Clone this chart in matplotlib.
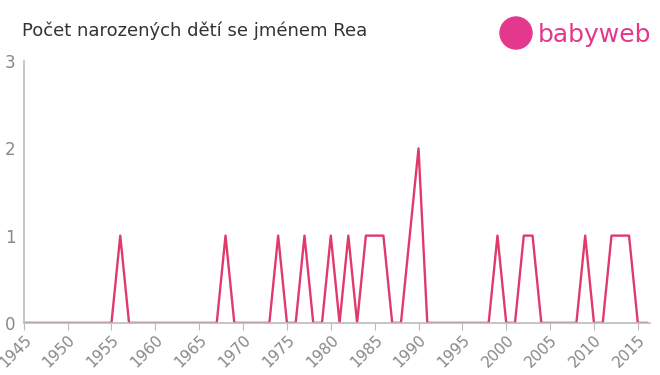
import matplotlib.pyplot as plt
from matplotlib.patches import Ellipse

years = list(range(1945, 2017))
counts = [0] * len(years)
ones = [1956, 1968, 1974, 1977, 1980, 1982, 1984, 1985, 1986, 1989,
        1999, 2002, 2003, 2009, 2012, 2013, 2014]
twos = [1990]
for y in ones:
    counts[years.index(y)] = 1
for y in twos:
    counts[years.index(y)] = 2

x_ticks = list(range(1945, 2016, 5))
y_ticks = [0, 1, 2, 3]
title = 'Počet narozených dětí se jménem Rea'

line_color = '#e03a6c'
grey = '#888888'

fig = plt.figure(figsize=(6.6, 3.75), dpi=100)
ax = fig.add_axes([0.036, 0.139, 0.949, 0.698])
ax.plot(years, counts, color=line_color, linewidth=1.7)
ax.set_xlim(1945, 2016.4)
ax.set_ylim(0, 3)

ax.set_xticks(x_ticks)
ax.set_xticklabels([str(t) for t in x_ticks], rotation=45, ha='right',
                   rotation_mode='anchor', fontsize=11, color=grey)
ax.set_yticks(y_ticks)
ax.set_yticklabels([str(t) for t in y_ticks], fontsize=12, color=grey)
ax.tick_params(axis='x', length=5, color='#bbbbbb', pad=2)
ax.tick_params(axis='y', length=0, pad=6)

for side in ['top', 'right']:
    ax.spines[side].set_visible(False)
for side in ['left', 'bottom']:
    ax.spines[side].set_color('#bbbbbb')
    ax.spines[side].set_linewidth(1.2)

fig.text(22 / 660, 1 - 31 / 375, title, fontsize=13, color='#333333',
         va='center', ha='left')

# logo
logo_color = '#e4388c'
fig.patches.append(Ellipse((516 / 660, 1 - 33 / 375), 32 / 660, 32 / 375,
                           transform=fig.transFigure, color=logo_color))
fig.text(538 / 660, 1 - 35 / 375, 'babyweb', fontsize=18, color=logo_color,
         va='center', ha='left')

fig.savefig('out.png', dpi=100)
